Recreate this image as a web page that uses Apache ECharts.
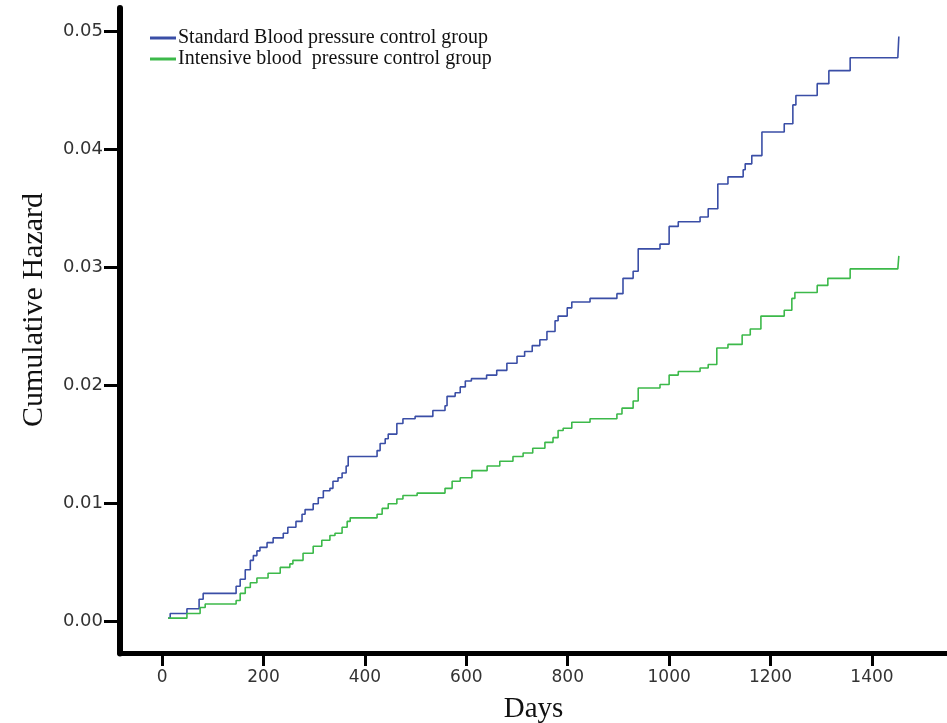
<!DOCTYPE html>
<html>
<head>
<meta charset="utf-8">
<script src="https://cdn.jsdelivr.net/npm/echarts@6/dist/echarts.min.js"></script>
<style>
html,body{margin:0;padding:0;background:#fff;}
#chart{width:947px;height:723px;}
</style>
</head>
<body>
<div id="chart"></div>
<script>
// Series names
var seriesNames = ['Standard Blood pressure control group', 'Intensive blood  pressure control group'];

// Standard group: day at which the step occurs, and cumulative hazard after it
var standardDays = [12,16,49,73,81,146,154,164,174,180,187,193,207,219,239,248,264,276,282,298,308,318,331,337,347,355,363,367,424,430,440,446,463,475,499,534,558,562,578,588,598,610,640,660,680,700,715,730,745,759,775,781,799,808,844,897,909,929,939,982,1000,1018,1061,1077,1096,1116,1146,1150,1163,1183,1227,1244,1250,1292,1315,1357,1451,1453];
var standardHaz  = [0.0003,0.0007,0.0011,0.0019,0.0024,0.0030,0.0036,0.0044,0.0052,0.0056,0.0060,0.0063,0.0067,0.0071,0.0075,0.0080,0.0085,0.0091,0.0095,0.0100,0.0105,0.0111,0.0113,0.0119,0.0122,0.0126,0.0132,0.0140,0.0145,0.0151,0.0155,0.0159,0.0168,0.0172,0.0174,0.0179,0.0183,0.0191,0.0194,0.0199,0.0204,0.0206,0.0209,0.0213,0.0219,0.0225,0.0229,0.0234,0.0239,0.0246,0.0255,0.0259,0.0266,0.0271,0.0274,0.0278,0.0291,0.0297,0.0316,0.0320,0.0335,0.0339,0.0343,0.0350,0.0371,0.0377,0.0383,0.0388,0.0395,0.0415,0.0422,0.0438,0.0446,0.0456,0.0467,0.0478,0.0478,0.0496];

// Intensive group
var intensiveDays = [12,49,75,85,146,154,164,174,187,209,233,252,258,278,298,315,331,341,355,365,371,424,434,446,463,475,503,558,572,588,611,641,666,692,712,731,755,771,781,791,808,844,897,907,929,939,982,1000,1018,1061,1077,1094,1116,1144,1160,1181,1227,1242,1248,1292,1313,1357,1451,1453];
var intensiveHaz  = [0.0003,0.0007,0.0012,0.0015,0.0018,0.0024,0.0029,0.0033,0.0037,0.0041,0.0046,0.0049,0.0052,0.0058,0.0064,0.0069,0.0073,0.0075,0.0080,0.0085,0.0088,0.0091,0.0096,0.0100,0.0104,0.0107,0.0109,0.0113,0.0119,0.0122,0.0128,0.0132,0.0136,0.0140,0.0143,0.0147,0.0152,0.0156,0.0162,0.0164,0.0169,0.0172,0.0176,0.0181,0.0187,0.0198,0.0201,0.0209,0.0212,0.0215,0.0218,0.0232,0.0235,0.0243,0.0248,0.0259,0.0264,0.0274,0.0279,0.0285,0.0291,0.0299,0.0299,0.0310];

// Tick labels
var xTicks = [0,200,400,600,800,1000,1200,1400];
var yTicks = [0,0.01,0.02,0.03,0.04,0.05];

var colors = ['#3a4ea6', '#3cb94a'];

function pairs(xs, ys){ return xs.map(function(x,i){ return [x, ys[i]]; }); }

var serif = 'Liberation Serif, Times New Roman, serif';
var sans = 'DejaVu Sans, Arial, sans-serif';

var chart = echarts.init(document.getElementById('chart'));
chart.setOption({
  animation: false,
  backgroundColor: '#ffffff',
  grid: { left: 120, right: 0, top: 8, bottom: 69.5, containLabel: false, outerBoundsMode: 'none' },
  legend: {
    orient: 'vertical', left: 145, top: 23, itemGap: 1,
    icon: 'rect', itemWidth: 26, itemHeight: 3,
    textStyle: { fontFamily: serif, fontSize: 20, color: '#111', padding: [0,0,0,-3] },
    data: [
      { name: seriesNames[0], itemStyle: { color: colors[0] } },
      { name: seriesNames[1], itemStyle: { color: colors[1] } }
    ]
  },
  xAxis: {
    type: 'value', min: -83, max: 1548,
    name: 'Days', nameLocation: 'middle', nameGap: 41,
    nameTextStyle: { fontFamily: serif, fontSize: 29, color: '#111' },
    splitLine: { show: false },
    axisLine: { show: true, onZero: false, lineStyle: { color: '#000', width: 5 } },
    axisTick: { show: true, length: 12.5, lineStyle: { color: '#000', width: 3 }, customValues: xTicks },
    axisLabel: { margin: 16, fontFamily: sans, fontSize: 17, color: '#333', customValues: xTicks,
      formatter: function(v){ return String(v); } }
  },
  yAxis: {
    type: 'value', min: -0.002695, max: 0.05201,
    splitLine: { show: false },
    axisLine: { show: true, onZero: false, lineStyle: { color: '#000', width: 6 } },
    axisTick: { show: true, length: 16, lineStyle: { color: '#000', width: 3 }, customValues: yTicks },
    axisLabel: { margin: 17, fontFamily: sans, fontSize: 18, color: '#333', customValues: yTicks,
      formatter: function(v){ return v.toFixed(2); } }
  },
  graphic: [{
    type: 'text', x: 34, y: 310, rotation: Math.PI/2,
    style: { text: 'Cumulative Hazard', fontFamily: serif, fontSize: 30, fill: '#111',
      align: 'center', verticalAlign: 'middle' }
  }],
  series: [
    { name: seriesNames[0], type: 'line', step: 'end', showSymbol: false, symbol: 'none',
      lineStyle: { color: colors[0], width: 1.6 }, itemStyle: { color: colors[0] },
      data: pairs(standardDays, standardHaz) },
    { name: seriesNames[1], type: 'line', step: 'end', showSymbol: false, symbol: 'none',
      lineStyle: { color: colors[1], width: 1.6 }, itemStyle: { color: colors[1] },
      data: pairs(intensiveDays, intensiveHaz) }
  ]
});
</script>
</body>
</html>
